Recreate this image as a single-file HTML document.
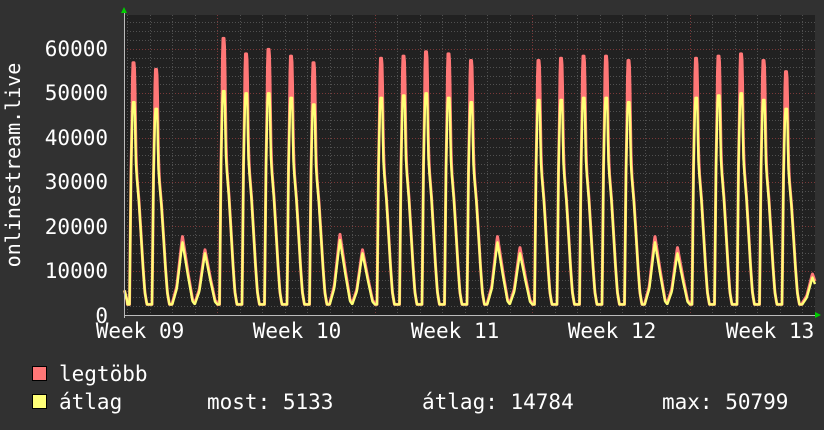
<!DOCTYPE html>
<html><head><meta charset="utf-8"><style>
html,body{margin:0;padding:0;background:#313131;}
svg{display:block;}
text{font-family:"DejaVu Sans Mono","Liberation Mono",monospace;fill:#fff;}
</style></head><body>
<svg id="s" width="824" height="430" xmlns="http://www.w3.org/2000/svg">
<rect x="0" y="0" width="824" height="430" fill="#313131"/>
<rect x="124" y="15" width="691" height="300" fill="#212121"/>
<g id="grid"></g>
<g id="series"></g>
<line x1="124" y1="315.5" x2="818" y2="315.5" stroke="#bbb" stroke-width="1"/>
<line x1="124.5" y1="12" x2="124.5" y2="318" stroke="#bbb" stroke-width="1"/>
<polygon points="121,13 127,13 124,7" fill="#00cc00"/>
<polygon points="815,312 815,318 821,315" fill="#00cc00"/>
<g font-size="21" text-anchor="end">
<text x="108" y="56">60000</text>
<text x="108" y="100">50000</text>
<text x="108" y="145">40000</text>
<text x="108" y="189">30000</text>
<text x="108" y="234">20000</text>
<text x="108" y="278">10000</text>
<text x="108" y="323">0</text>
</g>
<g font-size="21" text-anchor="middle">
<text x="140" y="338">Week 09</text>
<text x="297" y="338">Week 10</text>
<text x="455" y="338">Week 11</text>
<text x="612" y="338">Week 12</text>
<text x="770" y="338">Week 13</text>
</g>
<text transform="translate(20,165) rotate(-90)" font-size="20" text-anchor="middle">onlinestream.live</text>
<rect x="32.5" y="366.5" width="14" height="14" fill="#ff7777" stroke="#000"/>
<rect x="32.5" y="394.5" width="14" height="14" fill="#ffff77" stroke="#000"/>
<g font-size="21">
<text x="59" y="381">legtöbb</text>
<text x="59" y="409">átlag</text>
<text x="207" y="409">most: 5133</text>
<text x="422" y="409">átlag: 14784</text>
<text x="662" y="409">max: 50799</text>
</g>
</svg>
<script>
function Y(v){return 315-v*(266/60000);}
var g=document.getElementById('grid'),h='';
for(var v=2000;v<=66000;v+=2000){var y=Y(v);if(y<15)break;var maj=v%10000==0;
h+='<line x1="124" x2="815" y1="'+(Math.round(y)+.5)+'" y2="'+(Math.round(y)+.5)+'" stroke="'+(maj?'#7a3838':'#505050')+'" stroke-dasharray="1,2"/>';}
for(var d=0;d<=31;d++){var x=127.3+d*22.5;if(x>815)break;var wk=((d-4)%7+7)%7==0;
h+='<line y1="15" y2="315" x1="'+(Math.round(x)+.5)+'" x2="'+(Math.round(x)+.5)+'" stroke="'+(wk?'#7a3838':'#505050')+'" stroke-dasharray="1,2"/>';}
g.innerHTML=h;
var mx=[56000,54500,17500,14500,61500,58000,59000,57500,56000,18000,14500,57000,57500,58500,58000,56500,17500,15000,56500,57000,57500,57500,56500,17500,15000,57000,57500,58000,56500,54000,9000];
var av=[48000,46500,16500,14000,50500,50000,50000,49000,47500,17000,14000,49000,49500,50000,49000,48000,16500,14000,48500,48500,49000,49000,48000,16500,14000,49000,49500,50000,48500,46500,8500];
function interp(k,t){for(var i=1;i<k.length;i++){if(t<=k[i][0]){var a=k[i-1],b=k[i];return a[1]+(b[1]-a[1])*(t-a[0])/(b[0]-a[0]);}}return k[k.length-1][1];}
var base=2400;
var WD=[[0,0],[0.1,0],[0.17,0.7],[0.24,1],[0.33,1],[0.38,0.7],[0.43,0.62],[0.52,0.5],[0.6,0.36],[0.7,0.18],[0.78,0.06],[0.87,0],[1,0]];
var SP=[[0,0],[0.2,0],[0.24,1],[0.3,1],[0.36,0.5],[0.42,0],[1,0]];
var WE=[[0,0],[0.2,0.25],[0.45,1],[0.7,0.45],[0.9,0.05],[1,0]];
function val(x,isMax){var dd=(x-127.3)/22.5;var d=Math.floor(dd),t=dd-d;
if(d<0){return 6000-(x-124)*900;} if(d>=mx.length)d=mx.length-1;
var we=(d%7==2||d%7==3||d==30);
var a=av[d]-base,m=mx[d]-av[d];
if(we){var v=base+a*interp(WE,t);if(isMax)v+=m*interp(WE,t)+300;return v;}
var v=base+a*interp(WD,t);if(isMax)v+=m*interp(SP,t)+900*interp(WD,t);return v;}
function path(isMax){var p='';for(var x=124.5;x<=815;x+=0.5){var y=Y(Math.max(val(x,isMax),2200));p+=(p?'L':'M')+x.toFixed(1)+','+y.toFixed(1);}return p;}
var s=document.getElementById('series');
s.innerHTML='<path d="'+path(true)+'" fill="none" stroke="#ff7777" stroke-width="3" stroke-linejoin="round"/><path d="'+path(false)+'" fill="none" stroke="#ffff77" stroke-width="2.4" stroke-linejoin="round"/>';
</script>
</body></html>
